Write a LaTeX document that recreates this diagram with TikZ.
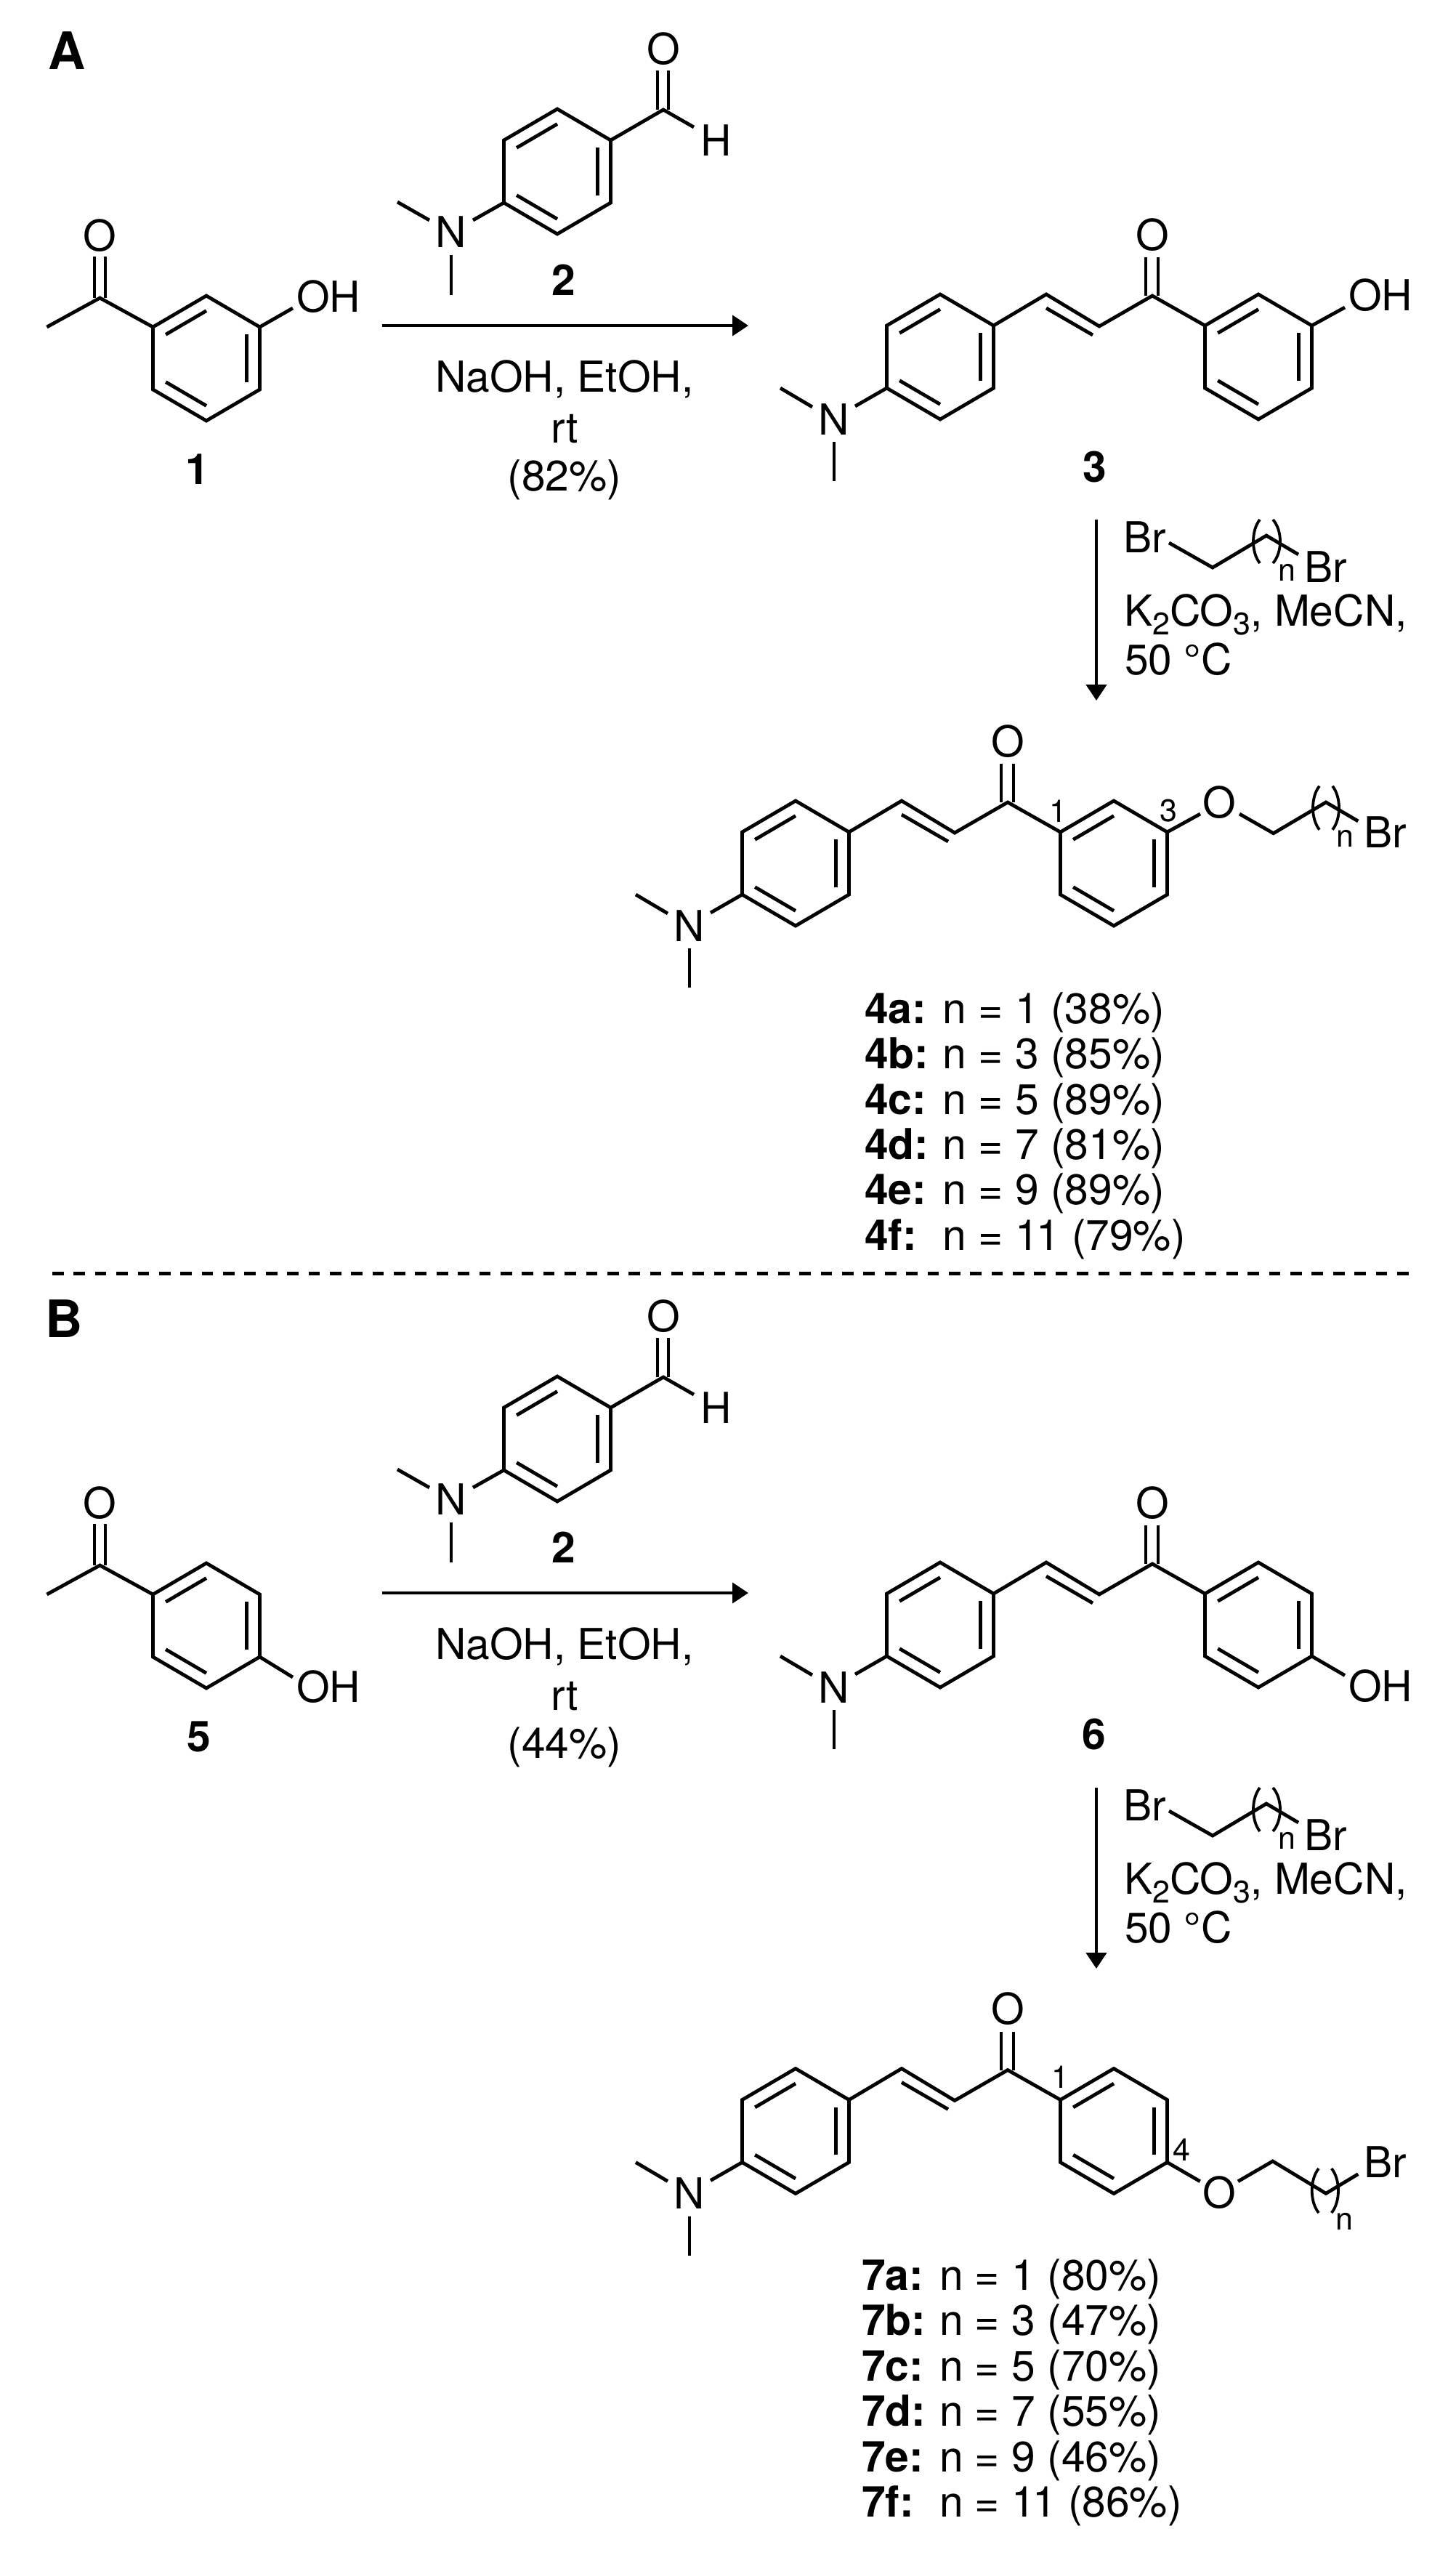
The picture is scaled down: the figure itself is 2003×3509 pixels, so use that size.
\documentclass[tikz,border=0pt]{standalone}
\usepackage{fontspec}
\setmainfont{TeX Gyre Heros}
\usetikzlibrary{calc,arrows.meta}
\newcommand{\fsmain}{\fontsize{58.7}{68}\selectfont}
\newcommand{\fssub}{\fontsize{43}{43}\selectfont}
\newcommand{\fshead}{\fontsize{71}{71}\selectfont\bfseries}
\tikzset{
  bond/.style={line width=4.8pt,line join=miter,line cap=butt,black},
  paren/.style={line width=3.8pt,line cap=butt,black},
  rxn/.style={line width=4.4pt,black,-{Triangle[length=22pt,width=28pt]}},
  sepline/.style={line width=4.7pt,black,dash pattern=on 15.7pt off 13.68pt},
  atom/.style={inner sep=0pt,outer sep=0pt,font=\fsmain,text=black},
  atomw/.style={atom,anchor=base west},
  atomc/.style={atom,anchor=base},
  cid/.style={atom,anchor=base,font=\fsmain\bfseries},
  subn/.style={inner sep=0pt,outer sep=0pt,anchor=base,font=\fssub,text=black},
  locant/.style={inner sep=0pt,outer sep=0pt,anchor=base,font=\fssub,text=black},
  paneltag/.style={inner sep=0pt,outer sep=0pt,anchor=base,font=\fshead,text=black},
}
% prefix, cx, cy
\newcommand{\hexring}[3]{%
  \coordinate (#1c) at (#2,#3);
  \coordinate (#1a) at (#2,#3-86);
  \coordinate (#1b) at (#2+73.5,#3-43);
  \coordinate (#1d) at (#2+73.5,#3+43);
  \coordinate (#1e) at (#2,#3+86);
  \coordinate (#1f) at (#2-73.5,#3+43);
  \coordinate (#1g) at (#2-73.5,#3-43);
  \draw[bond] (#1a)--(#1b)--(#1d)--(#1e)--(#1f)--(#1g)--cycle;
  \draw[bond] ($(#1g)!.24!(#1c)$)--($(#1a)!.24!(#1c)$);
  \draw[bond] ($(#1b)!.24!(#1c)$)--($(#1d)!.24!(#1c)$);
  \draw[bond] ($(#1e)!.24!(#1c)$)--($(#1f)!.24!(#1c)$);
}
% a bracket pair: tip L, belly L, tip R, belly R, ytop, ybot
\newcommand{\brackets}[6]{%
  \draw[paren] (#1,#5) .. controls (#2-0.33*#1+0.33*#2,#5+0.25*#6-0.25*#5) and (#2-0.33*#1+0.33*#2,#5+0.75*#6-0.75*#5) .. (#1,#6);
  \draw[paren] (#3,#5) .. controls (#4-0.33*#3+0.33*#4,#5+0.25*#6-0.25*#5) and (#4-0.33*#3+0.33*#4,#5+0.75*#6-0.75*#5) .. (#3,#6);
}
% dimethylamino benzaldehyde
\newcommand{\aldehyde}[1]{%
  \hexring{#1r}{767}{236}
  \coordinate (#1cho) at (913,151);
  \coordinate (#1hend) at (955,175);
  \coordinate (#1nb) at (651,303);
  \coordinate (#1me1a) at (547,278);
  \coordinate (#1me1b) at (591,303);
  \coordinate (#1me2a) at (621,351);
  \coordinate (#1me2b) at (621,406);
  \coordinate (#1ol1a) at (905,151);\coordinate (#1ol1b) at (905,97);
  \coordinate (#1ol2a) at (920,151);\coordinate (#1ol2b) at (920,97);
  \draw[bond] (#1rb)--(#1cho)--(#1hend);
  \draw[bond] (#1ol1a)--(#1ol1b);
  \draw[bond] (#1ol2a)--(#1ol2b);
  \draw[bond] (#1rf)--(#1nb);
  \draw[bond] (#1me1a)--(#1me1b);
  \draw[bond] (#1me2a)--(#1me2b);
  \node[atomc] (#1O) at (913,88) {O};
  \node[atomc] (#1H) at (986,214.5) {H};
  \node[atomc] (#1N) at (621,340) {N};
  \node[cid] (#1id) at (776,406) {2};
}
% acetophenone: cpd 1 / 5
\newcommand{\aceto}[1]{%
  \hexring{#1r}{284}{493}
  \coordinate (#1me) at (64.5,450);
  \coordinate (#1co) at (137.5,410);
  \coordinate (#1ol1a) at (130,410);\coordinate (#1ol1b) at (130,353);
  \coordinate (#1ol2a) at (145,410);\coordinate (#1ol2b) at (145,353);
  \draw[bond] (#1me)--(#1co)--(#1rg);
  \draw[bond] (#1ol1a)--(#1ol1b);
  \draw[bond] (#1ol2a)--(#1ol2b);
  \node[atomc] (#1O) at (137.5,345) {O};
}
% chalcone core, drawn at the place of cpd 3
\newcommand{\chalcone}[1]{%
  \hexring{#1l}{1294}{491}
  \hexring{#1r}{1732}{491}
  \coordinate (#1v1) at (1440,405);
  \coordinate (#1v2) at (1513,449);
  \coordinate (#1co) at (1586,407);
  \coordinate (#1i1) at (1440,424);
  \coordinate (#1i2) at (1504,461);
  \coordinate (#1ol1a) at (1577,407);\coordinate (#1ol1b) at (1577,354);
  \coordinate (#1ol2a) at (1594,407);\coordinate (#1ol2b) at (1594,354);
  \coordinate (#1nb) at (1177,559);
  \coordinate (#1me1a) at (1074,534);
  \coordinate (#1me1b) at (1118,560);
  \coordinate (#1me2a) at (1148,608);
  \coordinate (#1me2b) at (1148,662);
  \draw[bond] (#1lb)--(#1v1)--(#1v2)--(#1co)--(#1rg);
  \draw[bond] (#1i1)--(#1i2);
  \draw[bond] (#1ol1a)--(#1ol1b);
  \draw[bond] (#1ol2a)--(#1ol2b);
  \draw[bond] (#1lf)--(#1nb);
  \draw[bond] (#1me1a)--(#1me1b);
  \draw[bond] (#1me2a)--(#1me2b);
  \node[atomc] (#1O) at (1586,344) {O};
  \node[atomc] (#1N) at (1148,598) {N};
}
% reagents of the second step with its arrow
\newcommand{\stepB}[1]{%
  \coordinate (#1a1) at (1509,715);
  \coordinate (#1a2) at (1509,964);
  \draw[rxn] (#1a1)--(#1a2);
  \coordinate (#1b1) at (1609,747);
  \coordinate (#1b2) at (1669,781);
  \coordinate (#1b3) at (1743,737);
  \coordinate (#1b4) at (1787,763);
  \draw[bond] (#1b1)--(#1b2)--(#1b3)--(#1b4);
  \brackets{1734}{1725}{1752}{1762}{715}{775}
  \node[atomw] (#1br1) at (1546,760) {Br};
  \node[subn] (#1n) at (1771,799.5) {n};
  \node[atomw] (#1br2) at (1795,801) {Br};
  \node[atomw] (#1k) at (1547,861) {K\raisebox{-12.5pt}{\fssub 2}CO\raisebox{-12.5pt}{\fssub 3}, MeCN,};
  \node[atomw] (#1t) at (1548,928) {50 °C};
}
% first arrow and its conditions
\newcommand{\stepA}[2]{%
  \coordinate (#1a1) at (526,448);
  \coordinate (#1a2) at (1030,448);
  \draw[rxn] (#1a1)--(#1a2);
  \node[atomc] (#1c1) at (777,539) {NaOH, EtOH,};
  \node[atomc] (#1c2) at (777,609) {rt};
  \node[atomc] (#1c3) at (777,675) {#2};
}
% one line of a list: name, x bold, x text, y, bold text, text
\newcommand{\listline}[6]{%
  \node[atom,anchor=base west,font=\fsmain\bfseries] (#1id) at (#2,#4) {#5};
  \node[atomw] (#1tx) at (#3,#4) {#6};
}
\begin{document}
\begin{tikzpicture}[x=1pt,y=-1pt]
\useasboundingbox (0,0) rectangle (2003,3509);
\fill[white] (0,0) rectangle (2003,3509);

% ---------- panel A
\node[paneltag] (hA) at (92.5,95) {A};
\aceto{p}
\coordinate (pohb) at (403,424);
\draw[bond] (prb)--(pohb);
\node[atomw] (pOH) at (408,429) {OH};
\node[cid] (p1) at (272,666) {1};
\aldehyde{q}
\stepA{s}{(82\%)}
\chalcone{t}
\coordinate (tohb) at (1851,423);
\draw[bond] (trb)--(tohb);
\node[atomw] (tOH) at (1856,427) {OH};
\node[cid] (t3) at (1507,663) {3};
\stepB{u}

\begin{scope}[shift={(-199,697)}]
  \chalcone{v}
\end{scope}
\node[locant] (v1) at (1456,1131) {1};
\node[locant] (v3) at (1608,1130.7) {3};
\coordinate (ve1) at (1652,1120);
\coordinate (ve2) at (1706,1120);
\coordinate (ve3) at (1752.7,1146.7);
\coordinate (ve4) at (1825,1104);
\coordinate (ve5) at (1869.3,1130);
\draw[bond] (vrb)--(ve1);
\draw[bond] (ve2)--(ve3)--(ve4)--(ve5);
\brackets{1816}{1807}{1834}{1843}{1081.7}{1141.7}
\node[atomc] (vOe) at (1678.5,1125) {O};
\node[subn] (vn) at (1851.6,1165) {n};
\node[atomw] (vBr) at (1877.5,1166.7) {Br};
\listline{la}{1190.2}{1297.9}{1408.3}{4a:}{n = 1 (38\%)}
\listline{lb}{1190.2}{1297.9}{1470.7}{4b:}{n = 3 (85\%)}
\listline{lc}{1190.2}{1297.9}{1533.1}{4c:}{n = 5 (89\%)}
\listline{ld}{1190.2}{1297.9}{1595.5}{4d:}{n = 7 (81\%)}
\listline{le}{1190.2}{1297.9}{1657.9}{4e:}{n = 9 (89\%)}
\listline{lf}{1190.2}{1297.9}{1720.3}{4f:}{n = 1\kern-4pt 1 (79\%)}

% ---------- separator
\coordinate (d1) at (72,1752.3);
\coordinate (d2) at (1939,1752.3);
\draw[sepline] (d1)--(d2);

% ---------- panel B
\node[paneltag] (hB) at (87.7,1840) {B};
\begin{scope}[shift={(0,1744)}]
  \aceto{w}
  \aldehyde{x}
  \stepA{y}{(44\%)}
\end{scope}
\coordinate (wohb) at (403,2308);
\draw[bond] (wrd)--(wohb);
\node[atomw] (wOH) at (408,2342) {OH};
\node[cid] (w5) at (273.6,2410.5) {5};
\begin{scope}[shift={(0,1745)}]
  \chalcone{z}
  \stepB{ab}
\end{scope}
\coordinate (zohb) at (1851,2305.5);
\draw[bond] (zrd)--(zohb);
\node[atomw] (zOH) at (1856,2341.4) {OH};
\node[cid] (z6) at (1505.6,2407.6) {6};

\begin{scope}[shift={(-199,2441.5)}]
  \chalcone{ac}
\end{scope}
\node[locant] (ac1) at (1459,2873.7) {1};
\node[locant] (ac4) at (1626.5,2973.3) {4};
\coordinate (ace1) at (1651.7,3001.7);
\coordinate (ace2) at (1704,3001.7);
\coordinate (ace3) at (1751.7,2974);
\coordinate (ace4) at (1825,3018.3);
\coordinate (ace5) at (1869.3,2991.7);
\draw[bond] (acrd)--(ace1);
\draw[bond] (ace2)--(ace3)--(ace4)--(ace5);
\brackets{1815}{1805.7}{1832.7}{1842}{2984}{3045}
\node[atomc] (acOe) at (1678,3038) {O};
\node[subn] (acn) at (1850.5,3068.3) {n};
\node[atomw] (acBr) at (1877.5,2996.7) {Br};
\listline{ma}{1186}{1293}{3151}{7a:}{n = 1 (80\%)}
\listline{mb}{1186}{1293}{3213.5}{7b:}{n = 3 (47\%)}
\listline{mc}{1186}{1293}{3276}{7c:}{n = 5 (70\%)}
\listline{md}{1186}{1293}{3338.5}{7d:}{n = 7 (55\%)}
\listline{me}{1186}{1293}{3401}{7e:}{n = 9 (46\%)}
\listline{mf}{1186}{1293}{3463.5}{7f:}{n = 1\kern-4pt 1 (86\%)}
\end{tikzpicture}
\end{document}
